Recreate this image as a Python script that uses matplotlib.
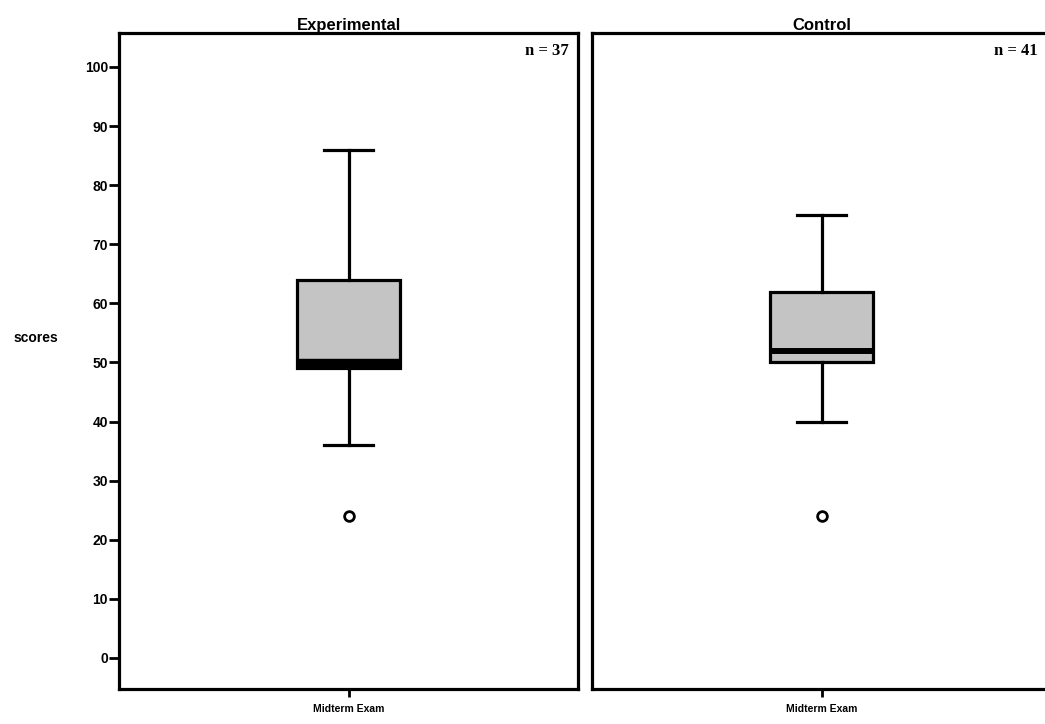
import matplotlib
matplotlib.use("Agg")
import matplotlib.pyplot as plt

groups = ["Experimental", "Control"]
n_values = [37, 41]
category = "Midterm Exam"
whisker_low = [36, 40]
q1 = [49, 50]
medians = [49.8, 52]
q3 = [64, 62]
whisker_high = [86, 75]
outliers = [[24], [24]]
yticks = list(range(0, 101, 10))

W, H = 1045, 724
fig = plt.figure(figsize=(W / 100, H / 100), dpi=100)
plt.rcParams['font.family'] = ['Liberation Sans', 'DejaVu Sans']

ax_w = 459 / W
ax_h = 656 / H
bottom = (H - 689) / H
lefts = [119 / W, 592 / W]

edge_lw = 2.3
for i, g in enumerate(groups):
    ax = fig.add_axes([lefts[i], bottom, ax_w, ax_h])
    stats = [dict(med=medians[i], q1=q1[i], q3=q3[i], whislo=whisker_low[i],
                  whishi=whisker_high[i], fliers=outliers[i], label=category)]
    ax.bxp(stats, positions=[0.5], widths=0.225, patch_artist=True,
           capwidths=0.107,
           boxprops=dict(facecolor="#c4c4c4", edgecolor="black", linewidth=edge_lw),
           medianprops=dict(color="black", linewidth=7.5 if i == 0 else 4.3, solid_capstyle="butt"),
           whiskerprops=dict(color="black", linewidth=edge_lw),
           capprops=dict(color="black", linewidth=edge_lw),
           flierprops=dict(marker="o", markersize=7, markerfacecolor="white",
                           markeredgecolor="black", markeredgewidth=2.0))
    ax.set_xlim(0, 1)
    ax.set_ylim(-5.25, 105.75)
    for s in ax.spines.values():
        s.set_linewidth(2.3)
    ax.set_xticks([0.5])
    ax.set_xticklabels([category], fontsize=7.5, fontweight="bold")
    ax.tick_params(axis="x", length=6, width=2, pad=5)
    if i == 0:
        ax.set_yticks(yticks)
        ax.set_yticklabels([str(t) for t in yticks], fontsize=10, fontweight="bold")
        ax.tick_params(axis="y", length=7, width=2, pad=1)
        ax.set_ylabel("scores", rotation=0, fontsize=10, fontweight="bold", labelpad=0)
        ax.yaxis.set_label_coords(-0.18, 0.525)
    else:
        ax.set_yticks([])
    ax.set_title(g, fontsize=12, fontweight="bold", pad=2)
    ax.text(0.98 if i == 0 else 0.97, 0.985, f"n = {n_values[i]}", transform=ax.transAxes,
            ha="right", va="top", fontsize=12, fontweight="bold",
            family=["Liberation Serif", "DejaVu Serif"])

fig.savefig("out.png", dpi=100)
